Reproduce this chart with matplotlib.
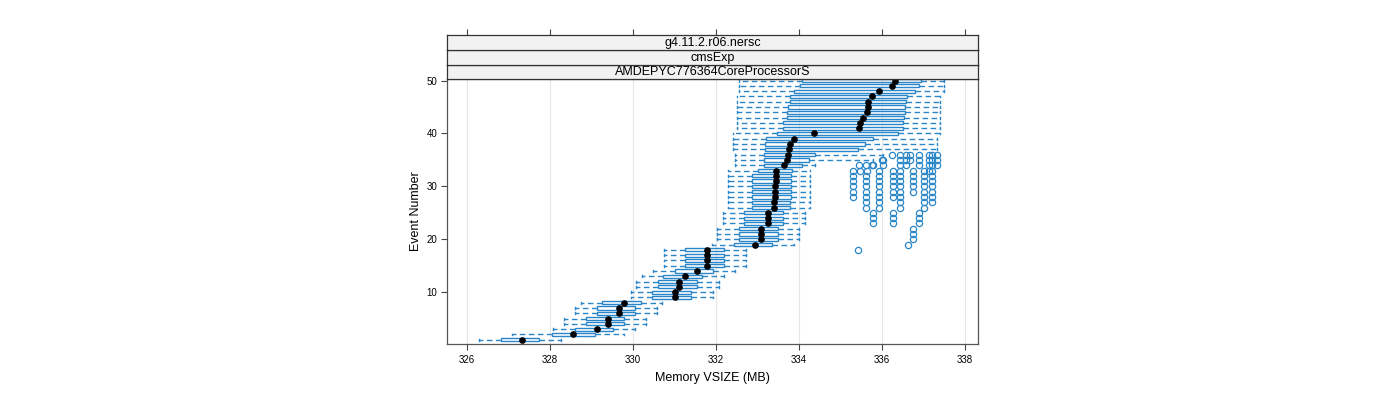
import numpy as np
import matplotlib.pyplot as plt

plt.rcParams['font.family'] = ['Liberation Sans', 'DejaVu Sans']

# per-event box stats, events 1..50 (MB)
events = np.arange(1, 51)
wlo = [326.30, 327.08, 328.08, 328.35, 328.35, 328.61, 328.61, 328.74, 329.95, 329.95,
       330.08, 330.08, 330.21, 330.47, 330.74, 330.74, 330.74, 330.74, 331.91, 332.03,
       332.03, 332.03, 332.16, 332.16, 332.16, 332.30, 332.30, 332.30, 332.30, 332.30,
       332.30, 332.30, 332.30, 332.45, 332.45, 332.45, 332.42, 332.42, 332.42, 332.42,
       332.50, 332.50, 332.50, 332.50, 332.50, 332.50, 332.50, 332.55, 332.55, 332.55]
q1 = [326.81, 328.05, 328.61, 328.87, 328.87, 329.13, 329.13, 329.26, 330.46, 330.46,
      330.60, 330.60, 330.73, 331.00, 331.26, 331.26, 331.26, 331.26, 332.43, 332.56,
      332.56, 332.56, 332.68, 332.68, 332.68, 332.86, 332.86, 332.86, 332.86, 332.86,
      332.86, 332.86, 333.00, 333.16, 333.16, 333.16, 333.18, 333.18, 333.20, 333.46,
      333.62, 333.62, 333.70, 333.72, 333.74, 333.77, 333.77, 333.89, 334.02, 334.07]
med = [327.33, 328.55, 329.13, 329.39, 329.39, 329.66, 329.66, 329.78, 331.00, 331.00,
       331.12, 331.12, 331.25, 331.53, 331.78, 331.78, 331.78, 331.78, 332.95, 333.08,
       333.08, 333.08, 333.25, 333.25, 333.25, 333.40, 333.40, 333.42, 333.43, 333.43,
       333.44, 333.44, 333.45, 333.64, 333.70, 333.74, 333.76, 333.79, 333.88, 334.36,
       335.45, 335.46, 335.55, 335.63, 335.65, 335.66, 335.76, 335.92, 336.23, 336.31]
q3 = [327.73, 329.09, 329.53, 329.79, 329.79, 330.06, 330.06, 330.19, 331.40, 331.40,
      331.53, 331.53, 331.66, 331.92, 332.19, 332.19, 332.19, 332.19, 333.36, 333.49,
      333.49, 333.49, 333.62, 333.62, 333.62, 333.77, 333.77, 333.80, 333.80, 333.80,
      333.80, 333.80, 333.82, 334.06, 334.25, 334.38, 335.42, 335.60, 335.79, 336.39,
      336.50, 336.50, 336.53, 336.55, 336.55, 336.58, 336.60, 336.80, 336.88, 336.93]
whi = [328.26, 329.79, 330.06, 330.32, 330.32, 330.59, 330.59, 330.71, 331.93, 331.93,
       332.06, 332.06, 332.18, 332.45, 332.71, 332.71, 332.71, 332.71, 333.89, 334.01,
       334.01, 334.01, 334.14, 334.14, 334.14, 334.27, 334.27, 334.27, 334.27, 334.27,
       334.27, 334.27, 334.27, 334.39, 335.79, 336.02, 337.32, 337.32, 337.32, 337.40,
       337.40, 337.40, 337.40, 337.40, 337.40, 337.40, 337.40, 337.50, 337.50, 337.50]

# outliers by event number
outliers = {
    18: [335.42],
    19: [336.62],
    20: [336.75], 21: [336.75], 22: [336.75],
    23: [335.78, 336.27, 336.88],
    24: [335.78, 336.27, 336.88],
    25: [335.78, 336.27, 336.88],
    26: [335.61, 335.93, 336.43, 337.00],
    27: [335.61, 335.93, 336.43, 337.00, 337.20],
    28: [335.31, 335.61, 335.93, 336.27, 336.43, 337.00, 337.20],
    29: [335.31, 335.61, 335.93, 336.27, 336.43, 336.75, 337.00, 337.20],
    30: [335.31, 335.61, 335.93, 336.27, 336.43, 336.75, 337.00, 337.20],
    31: [335.31, 335.61, 335.93, 336.27, 336.43, 336.75, 337.00, 337.20],
    32: [335.31, 335.61, 335.93, 336.27, 336.43, 336.75, 337.00, 337.20],
    33: [335.31, 335.47, 335.63, 335.93, 336.27, 336.43, 336.75, 337.00, 337.12, 337.20],
    34: [335.45, 335.61, 335.75, 335.79, 336.03, 336.43, 336.58, 336.88, 337.12, 337.20, 337.32],
    35: [335.99, 336.03, 336.43, 336.58, 336.68, 336.88, 337.12, 337.20, 337.32],
    36: [336.25, 336.43, 336.58, 336.68, 336.88, 337.12, 337.20, 337.32],
}

strips = ['AMDEPYC776364CoreProcessorS', 'cmsExp', 'g4.11.2.r06.nersc']
xticks = [326, 328, 330, 332, 334, 336, 338]
yticks = [10, 20, 30, 40, 50]

blue = '#2a86c8'
W, H = 1400, 400


def frame(x0, y0, x1, y1):
    return [x0 / W, 1 - y1 / H, (x1 - x0) / W, (y1 - y0) / H]


fig = plt.figure(figsize=(14, 4), dpi=100)
ax = fig.add_axes(frame(447, 79, 978, 344))

stats = []
for i, e in enumerate(events):
    stats.append(dict(med=med[i], q1=q1[i], q3=q3[i], whislo=wlo[i], whishi=whi[i],
                      fliers=outliers.get(e, [])))

ax.bxp(stats, positions=events, widths=0.6, capwidths=0.35, orientation='horizontal',
       patch_artist=True, manage_ticks=False,
       boxprops=dict(facecolor='none', edgecolor=blue, linewidth=1),
       whiskerprops=dict(color=blue, linewidth=1, linestyle=(0, (4, 2.5))),
       capprops=dict(color=blue, linewidth=1),
       medianprops=dict(linewidth=0),
       flierprops=dict(marker='o', markersize=4.5, markerfacecolor='none',
                       markeredgecolor=blue, markeredgewidth=0.9, linestyle='none'))
ax.plot(med, events, 'o', color='black', markersize=3.8, zorder=5)

ax.set_xlim(325.52, 338.31)
ax.set_ylim(0.2, 50.3)
ax.set_xticks(xticks)
ax.set_yticks(yticks)
for x in xticks:
    ax.axvline(x, color='#e6e6e6', linewidth=0.8, zorder=0)
ax.tick_params(labelsize=7, length=4, width=0.8, color='#444444', pad=3)
ax.tick_params(axis='x', pad=4)
for s in ax.spines.values():
    s.set_color('#555555')
    s.set_linewidth(0.9)
ax.set_xlabel('Memory VSIZE (MB)', fontsize=9, labelpad=5)
ax.set_ylabel('Event Number', fontsize=9, labelpad=3)

# strips on top of the panel
edges = [79, 64.5, 49.5, 35]
for k, name in enumerate(strips):
    sax = fig.add_axes(frame(447, edges[k + 1], 978, edges[k]))
    sax.set_facecolor('#f2f2f2')
    sax.set_xlim(ax.get_xlim())
    sax.set_yticks([])
    for s in sax.spines.values():
        s.set_color('#333333')
        s.set_linewidth(0.9)
    sax.text(0.5, 0.45, name, transform=sax.transAxes, ha='center', va='center', fontsize=9)
    if k == len(strips) - 1:
        sax.set_xticks(xticks)
        sax.tick_params(axis='x', bottom=False, labelbottom=False, top=True, labeltop=False,
                        length=4, width=0.8, color='#444444')
    else:
        sax.set_xticks([])

fig.savefig('out.png', dpi=100)
